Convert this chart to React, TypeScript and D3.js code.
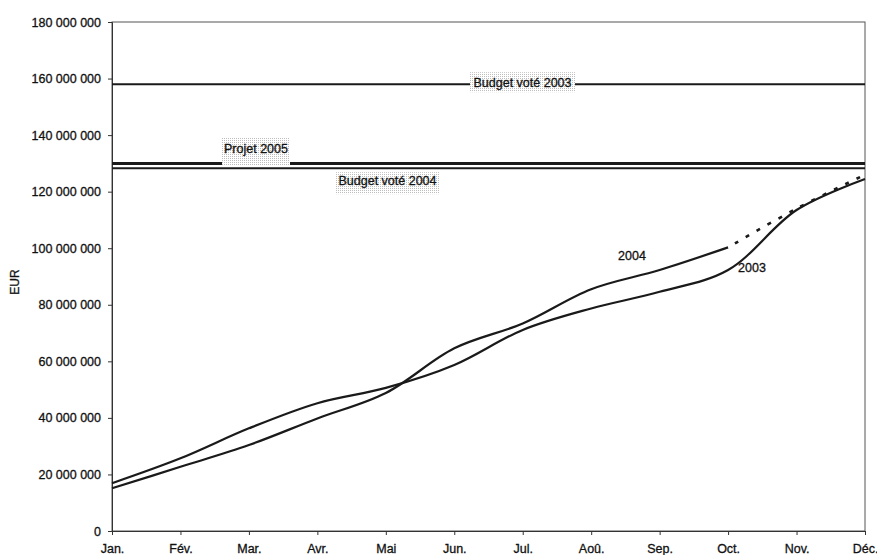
import React, { useEffect, useRef } from "react";
import * as d3 from "d3";

// Monthly categories
const months = ["Jan.", "Fév.", "Mar.", "Avr.", "Mai", "Jun.", "Jul.", "Aoû.", "Sep.", "Oct.", "Nov.", "Déc."];

// Cumulative spending, EUR millions
const spending2003 = [16.9, 25.7, 36.3, 45.2, 50.6, 58.7, 71.1, 78.7, 84.6, 92.3, 113.5, 124.5];
const spending2004 = [15.1, 22.7, 30.4, 39.8, 48.8, 64.6, 73.4, 85.5, 92.3, 100.3];
// Forecast for the rest of 2004 (starts at October)
const forecast2004Months = ["Oct.", "Nov.", "Déc."];
const forecast2004 = [100.3, 114.0, 126.0];

// Reference budget levels, EUR millions
const budgetLabels = ["Budget voté 2003", "Projet 2005", "Budget voté 2004"];
const budgetValues = [158.0, 130.0, 128.3];

const yTicks = [0, 20, 40, 60, 80, 100, 120, 140, 160, 180];

const W = 877;
const H = 555;
const FONT = "'Liberation Sans', Arial, Helvetica, sans-serif";
const INK = "#111";

export default function App() {
  const ref = useRef<SVGSVGElement | null>(null);

  useEffect(() => {
    const svg = d3.select(ref.current);
    svg.selectAll("*").remove();

    const left = 112, right = 865, top = 22, bottom = 531;
    const x = d3.scalePoint<string>().domain(months).range([left, right]).padding(0);
    const y = d3.scaleLinear().domain([0, 180]).range([bottom, top]);
    const locale = d3.formatLocale({ decimal: ",", thousands: " ", grouping: [3], currency: ["", " €"] });
    const fmt = locale.format(",.0f");

    // stippled label background
    const defs = svg.append("defs");
    const pat = defs.append("pattern").attr("id", "stipple").attr("width", 2).attr("height", 2)
      .attr("patternUnits", "userSpaceOnUse");
    pat.append("rect").attr("width", 2).attr("height", 2).attr("fill", "#ffffff");
    pat.append("rect").attr("width", 1).attr("height", 1).attr("fill", "#bdbdbd");

    svg.append("rect").attr("width", W).attr("height", H).attr("fill", "#fff");

    // plot frame
    svg.append("rect")
      .attr("x", left).attr("y", top)
      .attr("width", right - left).attr("height", bottom - top)
      .attr("fill", "none").attr("stroke", "#555").attr("stroke-width", 1);

    const styleText = (sel: any, size: number) =>
      sel.attr("font-family", FONT).attr("font-size", size).attr("fill", INK)
        .attr("stroke", INK).attr("stroke-width", 0.3);

    // y axis
    const gy = svg.append("g").attr("transform", `translate(${left},0)`)
      .call(d3.axisLeft(y).tickValues(yTicks).tickSize(4).tickPadding(7)
        .tickFormat((d) => fmt(+d * 1e6)));
    gy.select(".domain").attr("stroke", "#333");
    gy.selectAll(".tick line").attr("stroke", "#333");
    styleText(gy.selectAll("text"), 12.5);

    // x axis
    const gx = svg.append("g").attr("transform", `translate(0,${bottom})`)
      .call(d3.axisBottom(x).tickSize(4).tickPadding(9));
    gx.select(".domain").attr("stroke", "#333");
    gx.selectAll(".tick line").attr("stroke", "#333");
    styleText(gx.selectAll("text"), 12.5);

    // axis title
    styleText(svg.append("text")
      .attr("transform", `translate(19,282) rotate(-90)`)
      .attr("text-anchor", "middle"), 12)
      .text("EUR");

    // budget reference lines
    const budgetWidths = [2, 3, 2];
    budgetValues.forEach((v, i) => {
      svg.append("line")
        .attr("x1", left).attr("x2", right)
        .attr("y1", y(v)).attr("y2", y(v))
        .attr("stroke", "#1a1a1a").attr("stroke-width", budgetWidths[i]);
    });

    // spending curves
    const line = d3.line<number>()
      .x((_, i) => x(months[i]) as number)
      .y((d) => y(d))
      .curve(d3.curveCatmullRom.alpha(0.5));

    svg.append("path").datum(spending2003).attr("d", line)
      .attr("fill", "none").attr("stroke", "#1a1a1a").attr("stroke-width", 2.2);
    svg.append("path").datum(spending2004).attr("d", line)
      .attr("fill", "none").attr("stroke", "#1a1a1a").attr("stroke-width", 2.2);

    const forecastLine = d3.line<number>()
      .x((_, i) => x(forecast2004Months[i]) as number)
      .y((d) => y(d))
      .curve(d3.curveCatmullRom.alpha(0.5));
    svg.append("path").datum(forecast2004).attr("d", forecastLine)
      .attr("fill", "none").attr("stroke", "#1a1a1a").attr("stroke-width", 2.6)
      .attr("stroke-dasharray", "4 8.5").attr("stroke-dashoffset", -8);

    // labels with stippled boxes
    const boxed = (label: string, cx: number, baseline: number, bx0: number, bx1: number, by0: number, by1: number) => {
      svg.append("rect").attr("x", bx0).attr("y", by0).attr("width", bx1 - bx0).attr("height", by1 - by0)
        .attr("fill", "url(#stipple)");
      styleText(svg.append("text").attr("x", cx).attr("y", baseline).attr("text-anchor", "middle"), 12.5)
        .text(label);
    };
    const b2003 = y(budgetValues[0]);
    boxed(budgetLabels[0], 522.5, b2003 + 3, 470, 575, b2003 - 12, b2003 + 8);
    const p2005 = y(budgetValues[1]);
    boxed(budgetLabels[1], 256, p2005 - 10, 222, 290, p2005 - 26, p2005 + 2);
    const b2004 = y(budgetValues[2]);
    boxed(budgetLabels[2], 387.5, b2004 + 17, 335, 440, b2004 + 4, b2004 + 26);

    // series labels
    styleText(svg.append("text").attr("x", 632).attr("y", 260).attr("text-anchor", "middle"), 12.5)
      .text("2004");
    styleText(svg.append("text").attr("x", 752).attr("y", 272).attr("text-anchor", "middle"), 12.5)
      .text("2003");
  }, []);

  return (
    <div style={{ position: "absolute", left: 0, top: 0 }}>
      <svg ref={ref} width={W} height={H} style={{ display: "block" }} />
    </div>
  );
}
